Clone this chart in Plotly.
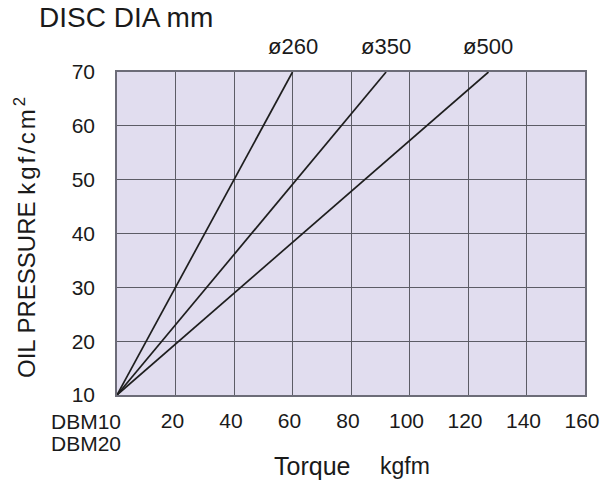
import plotly.graph_objects as go

# ---- data ----
disc_labels = ["ø260", "ø350", "ø500"]
torque_start = [0, 0, 0]
torque_end = [60, 92, 127]
pressure_start = [10, 10, 10]
pressure_end = [70, 70, 70]

x_tickvals = [20, 40, 60, 80, 100, 120, 140, 160]
x_ticktext = ["20", "40", "60", "80", "100", "120", "140", "160"]
y_tickvals = [10, 20, 30, 40, 50, 60, 70]
y_ticktext = ["10", "20", "30", "40", "50", "60", "70"]
model_labels = ["DBM10", "DBM20"]

FONT = "Liberation Sans, Arial, sans-serif"
TXT = "#1a1a1a"

fig = go.Figure()
for i, lab in enumerate(disc_labels):
    fig.add_trace(go.Scatter(
        x=[torque_start[i], torque_end[i]],
        y=[pressure_start[i], pressure_end[i]],
        mode="lines", line=dict(color="#1e1e1e", width=1.7),
        name=lab, showlegend=False, hoverinfo="skip"))
    fig.add_annotation(x=torque_end[i], y=pressure_end[i], text=lab,
                       showarrow=False, yshift=26, xanchor="center", yanchor="middle",
                       font=dict(family=FONT, size=22, color=TXT))

fig.update_layout(
    width=600, height=485,
    margin=dict(l=117, r=15, t=72, b=90, autoexpand=False),
    paper_bgcolor="white", plot_bgcolor="#e1ddef",
    font=dict(family=FONT, size=21, color=TXT),
    xaxis=dict(range=[0, 160], tickvals=x_tickvals, ticktext=x_ticktext,
               showgrid=True, gridcolor="#5c5c66", gridwidth=1,
               showline=True, linecolor="#6c6c78", linewidth=1.5, mirror=True,
               zeroline=False, ticks="", ticklabelstandoff=6, ticklabelshift=-3,
               ticklabeloverflow="allow", automargin=False,
               tickfont=dict(size=21, color=TXT, family=FONT)),
    yaxis=dict(range=[10, 70], tickvals=y_tickvals, ticktext=y_ticktext,
               showgrid=True, gridcolor="#5c5c66", gridwidth=1,
               showline=True, linecolor="#6c6c78", linewidth=1.5, mirror=True,
               zeroline=False, ticks="", ticklabelstandoff=16, automargin=False,
               tickfont=dict(size=21, color=TXT, family=FONT)),
)

# Top title
fig.add_annotation(xref="paper", yref="paper", x=0, y=1, xanchor="left", yanchor="middle",
                   xshift=-80, yshift=55, showarrow=False, text="DISC DIA mm",
                   font=dict(family=FONT, size=28, color=TXT))
# Y title
fig.add_annotation(xref="paper", yref="paper", x=0, y=(395 - 236) / 323, xanchor="center",
                   yanchor="middle", xshift=-92, showarrow=False, textangle=-90,
                   text="OIL PRESSURE <span style='font-size:24px;letter-spacing:3px'>kgf/cm<sup>2</sup></span>",
                   font=dict(family=FONT, size=24, color=TXT))
# X title
fig.add_annotation(xref="paper", yref="paper", x=(312 - 117) / 468, y=0, xanchor="center",
                   yanchor="middle", yshift=-71, showarrow=False, text="Torque",
                   font=dict(family=FONT, size=25, color=TXT))
fig.add_annotation(xref="paper", yref="paper", x=(405 - 117) / 468, y=0, xanchor="center",
                   yanchor="middle", yshift=-71, showarrow=False, text="kgfm",
                   font=dict(family=FONT, size=23, color=TXT))
# Model labels at origin
for j, m in enumerate(model_labels):
    fig.add_annotation(xref="paper", yref="paper", x=0, y=0, xanchor="right", yanchor="middle",
                       xshift=6, yshift=-26 - 22 * j, showarrow=False, text=m,
                       font=dict(family=FONT, size=21, color=TXT))

fig.write_html("out.html")
